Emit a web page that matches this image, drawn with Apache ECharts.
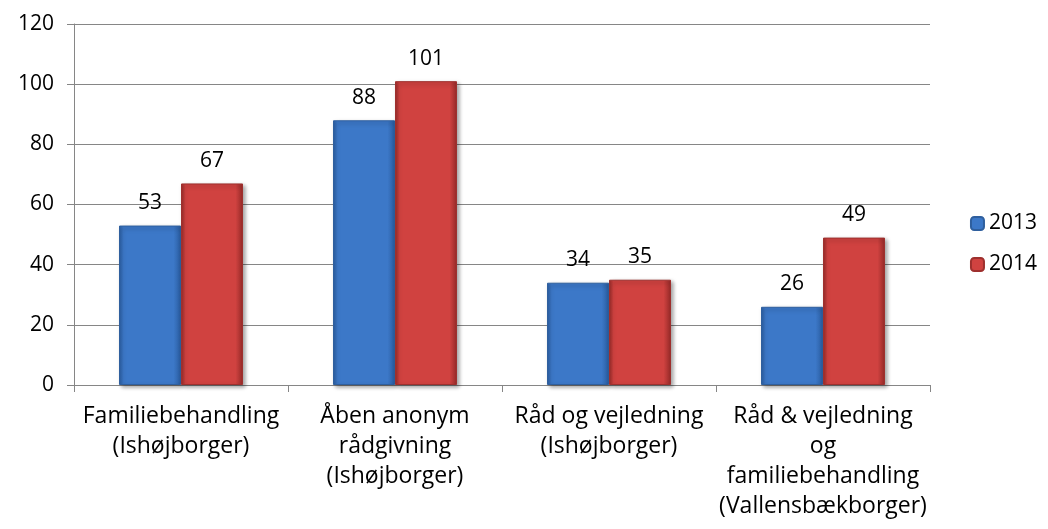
<!DOCTYPE html>
<html>
<head>
<meta charset="utf-8">
<script src="https://cdn.jsdelivr.net/npm/echarts@6/dist/echarts.min.js"></script>
<style>
  html, body { margin: 0; padding: 0; background: #fff; }
  #main { width: 1048px; height: 529px; }
</style>
</head>
<body>
<div id="main"></div>
<script>
// data
const categories = [
  'Familiebehandling\n(Ishøjborger)',
  'Åben anonym\nrådgivning\n(Ishøjborger)',
  'Råd og vejledning\n(Ishøjborger)',
  'Råd & vejledning\nog\nfamiliebehandling\n(Vallensbækborger)'
];
const values2013 = [53, 88, 34, 26];
const values2014 = [67, 101, 35, 49];
const yTicks = [0, 20, 40, 60, 80, 100, 120];

const font = '"Open Sans", Lato, sans-serif';

// bevel-ish fill
function bevel(mid, dark) {
  return new echarts.graphic.LinearGradient(0, 0, 1, 0, [
    { offset: 0, color: dark },
    { offset: 0.07, color: mid },
    { offset: 0.88, color: mid },
    { offset: 1, color: dark }
  ]);
}

const myChart = echarts.init(document.getElementById('main'));
const option = {
  animation: false,
  textStyle: { fontFamily: font },
  grid: { left: 74, right: 118, top: 24, bottom: 144 },
  legend: {
    orient: 'vertical',
    right: 6,
    top: 208,
    itemWidth: 13,
    itemHeight: 13,
    itemGap: 20,
    textStyle: { fontSize: 21, color: '#000', fontFamily: font },
    data: ['2013', '2014']
  },
  xAxis: {
    type: 'category',
    data: categories,
    axisLine: { lineStyle: { color: '#868686' } },
    axisTick: { show: true, length: 7, lineStyle: { color: '#868686' } },
    axisLabel: {
      interval: 0,
      color: '#000',
      fontSize: 23,
      lineHeight: 30,
      margin: 16,
      fontFamily: font
    }
  },
  yAxis: {
    type: 'value',
    min: yTicks[0],
    max: yTicks[yTicks.length - 1],
    interval: 20,
    axisLine: { show: true, lineStyle: { color: '#868686' } },
    axisTick: { show: true, length: 7, lineStyle: { color: '#868686' } },
    splitLine: { lineStyle: { color: '#868686' } },
    axisLabel: { color: '#000', fontSize: 21, margin: 20, fontFamily: font }
  },
  series: [
    {
      name: '2013',
      type: 'bar',
      data: values2013,
      barWidth: 62,
      barGap: '0%',
      itemStyle: {
        color: bevel('#3c78c8', '#2a5c9f'),
        borderColor: '#2f5f9e',
        borderWidth: 1,
        shadowColor: 'rgba(0,0,0,0.35)',
        shadowBlur: 4,
        shadowOffsetX: 2,
        shadowOffsetY: 2
      },
      label: {
        show: true,
        position: 'top',
        distance: 12,
        color: '#000',
        fontSize: 21,
        fontFamily: font
      }
    },
    {
      name: '2014',
      type: 'bar',
      data: values2014,
      barWidth: 62,
      itemStyle: {
        color: bevel('#d04240', '#952a28'),
        borderColor: '#9e302e',
        borderWidth: 1,
        shadowColor: 'rgba(0,0,0,0.35)',
        shadowBlur: 4,
        shadowOffsetX: 2,
        shadowOffsetY: 2
      },
      label: {
        show: true,
        position: 'top',
        distance: 12,
        color: '#000',
        fontSize: 21,
        fontFamily: font
      }
    }
  ]
};
myChart.setOption(option);
</script>
</body>
</html>
